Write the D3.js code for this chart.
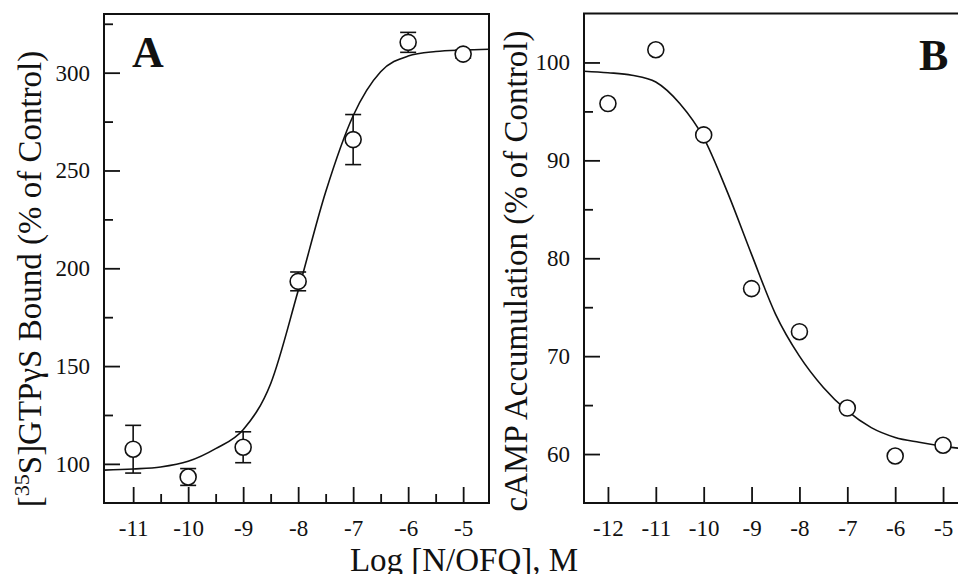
<!DOCTYPE html>
<html>
<head>
<meta charset="utf-8">
<script src="https://cdn.jsdelivr.net/npm/d3@7"></script>
<style>
  html, body { margin: 0; padding: 0; background: #fff; }
  svg { display: block; }
  text { font-family: "Liberation Serif", "Times New Roman", serif; fill: #111; }
</style>
</head>
<body>
<svg id="chart" width="958" height="574"></svg>
<script>
// ---------- Data ----------
// Panel A: [35S]GTPγS binding
const concA = [-11, -10, -9, -8, -7, -6, -5];
const meanA = [107.5, 93.3, 108.5, 193.3, 265.8, 315.5, 309.5];
const errA  = [12.2, 4.3, 7.9, 4.8, 12.8, 5.1, 2.0];
const fitXA = [-11.53, -11, -10.5, -10, -9.5, -9, -8.5, -8, -7.5, -7, -6.5, -6, -5.5, -5, -4.53];
const fitYA = [96.8, 97.4, 98.4, 101.3, 107.8, 117.5, 141, 188.5, 239, 278, 300.5, 308.5, 310.8, 311.6, 312];
const xTicksA = [-11, -10, -9, -8, -7, -6, -5];
const xMinorA = [-10.5, -9.5, -8.5, -7.5, -6.5, -5.5];
const yTicksA = [100, 150, 200, 250, 300];
const yMinorA = [125, 175, 225, 275, 325];

// Panel B: cAMP accumulation
const concB = [-12, -11, -10, -9, -8, -7, -6, -5];
const meanB = [95.8, 101.3, 92.6, 76.9, 72.5, 64.7, 59.8, 60.9];
const fitXB = [-12.5, -12, -11.5, -11, -10.5, -10, -9.5, -9, -8.5, -8, -7.5, -7, -6.5, -6, -5.5, -5, -4.5];
const fitYB = [99.1, 98.95, 98.7, 98.0, 95.8, 92.3, 86.7, 80.4, 74.3, 70.0, 66.8, 64.4, 62.7, 61.7, 61.2, 60.8, 60.5];
const xTicksB = [-12, -11, -10, -9, -8, -7, -6, -5];
const yTicksB = [60, 70, 80, 90, 100];
const yMinorB = [65, 75, 85, 95];

const svg = d3.select("#chart");

function panel(cfg) {
  const g = svg.append("g");
  const x = d3.scaleLinear().domain(cfg.xDomain).range([cfg.left, cfg.right]);
  const y = d3.scaleLinear().domain(cfg.yDomain).range([cfg.bottom, cfg.top]);

  const clipId = "clip" + cfg.id;
  svg.append("clipPath").attr("id", clipId)
    .append("rect").attr("x", cfg.left).attr("y", cfg.top)
    .attr("width", cfg.right - cfg.left).attr("height", cfg.bottom - cfg.top);

  // axes (ticks pointing inward)
  const yAx = g.append("g").attr("transform", `translate(${cfg.left},0)`)
    .call(d3.axisLeft(y).tickValues(cfg.yTicks).tickSize(-16).tickPadding(14).tickFormat(d3.format("d")));
  const yAxMinor = g.append("g").attr("transform", `translate(${cfg.left},0)`)
    .call(d3.axisLeft(y).tickValues(cfg.yMinor).tickSize(-9).tickFormat(""));
  const xAx = g.append("g").attr("transform", `translate(0,${cfg.bottom})`)
    .call(d3.axisBottom(x).tickValues(cfg.xTicks).tickSize(-16).tickPadding(17).tickFormat(d => String(d).replace("−", "-")));
  let axes = [yAx, yAxMinor, xAx];
  if (cfg.xMinor) {
    axes.push(g.append("g").attr("transform", `translate(0,${cfg.bottom})`)
      .call(d3.axisBottom(x).tickValues(cfg.xMinor).tickSize(-9).tickFormat("")));
  }
  axes.forEach(a => {
    a.select(".domain").remove();
    a.selectAll("line").attr("stroke", "#111").attr("stroke-width", 1.8);
    a.selectAll("text").attr("font-size", 23).attr("font-family", "Liberation Serif, serif").attr("fill", "#111");
  });

  // frame
  g.append("rect")
    .attr("x", cfg.left).attr("y", cfg.top)
    .attr("width", cfg.right - cfg.left).attr("height", cfg.bottom - cfg.top)
    .attr("fill", "none").attr("stroke", "#111").attr("stroke-width", 2);

  // fitted curve
  const line = d3.line().x(d => x(d[0])).y(d => y(d[1])).curve(d3.curveMonotoneX);
  g.append("path")
    .datum(cfg.fitX.map((v, i) => [v, cfg.fitY[i]]))
    .attr("clip-path", `url(#${clipId})`)
    .attr("d", line)
    .attr("fill", "none").attr("stroke", "#111").attr("stroke-width", 1.6);

  // error bars
  if (cfg.err) {
    const eb = g.append("g").attr("stroke", "#111").attr("stroke-width", 1.6);
    cfg.conc.forEach((c, i) => {
      const e = cfg.err[i];
      const cx = x(c), y1 = y(cfg.mean[i] - e), y2 = y(cfg.mean[i] + e);
      eb.append("line").attr("x1", cx).attr("x2", cx).attr("y1", y1).attr("y2", y2);
      eb.append("line").attr("x1", cx - 8).attr("x2", cx + 8).attr("y1", y1).attr("y2", y1);
      eb.append("line").attr("x1", cx - 8).attr("x2", cx + 8).attr("y1", y2).attr("y2", y2);
    });
  }

  // points
  g.append("g").selectAll("circle")
    .data(cfg.conc.map((c, i) => [c, cfg.mean[i]]))
    .join("circle")
    .attr("cx", d => x(d[0])).attr("cy", d => y(d[1])).attr("r", 8)
    .attr("fill", "#fff").attr("stroke", "#111").attr("stroke-width", 1.6);

  // panel letter
  g.append("text").attr("x", cfg.letterX).attr("y", cfg.letterY)
    .attr("font-size", 44).attr("font-weight", "bold").text(cfg.letter);

  return { g, x, y };
}

panel({
  id: "A", left: 104, right: 489, top: 14, bottom: 503,
  xDomain: [-11.53, -4.53], yDomain: [80, 330],
  xTicks: xTicksA, xMinor: xMinorA, yTicks: yTicksA, yMinor: yMinorA,
  conc: concA, mean: meanA, err: errA, fitX: fitXA, fitY: fitYA,
  letter: "A", letterX: 132, letterY: 67
});

panel({
  id: "B", left: 584, right: 967, top: 13.5, bottom: 503,
  xDomain: [-12.5, -4.5], yDomain: [55, 105],
  xTicks: xTicksB, xMinor: null, yTicks: yTicksB, yMinor: yMinorB,
  conc: concB, mean: meanB, err: null, fitX: fitXB, fitY: fitYB,
  letter: "B", letterX: 919, letterY: 70
});

// Y-axis label A (with superscript)
const labA = svg.append("text")
  .attr("transform", "translate(41,279) rotate(-90)")
  .attr("text-anchor", "middle").attr("font-size", 33);
labA.append("tspan").text("[");
labA.append("tspan").attr("font-size", 22).attr("dy", -12).text("35");
labA.append("tspan").attr("dy", 12).text("S]GTPγS Bound (% of Control)");

// Y-axis label B
svg.append("text")
  .attr("transform", "translate(527,271) rotate(-90)")
  .attr("text-anchor", "middle").attr("font-size", 33)
  .text("cAMP Accumulation (% of Control)");

// X-axis label (shared; cut by the bottom edge as in the reference)
svg.append("text")
  .attr("x", 464).attr("y", 571)
  .attr("text-anchor", "middle").attr("font-size", 33)
  .text("Log [N/OFQ], M");
</script>
</body>
</html>
